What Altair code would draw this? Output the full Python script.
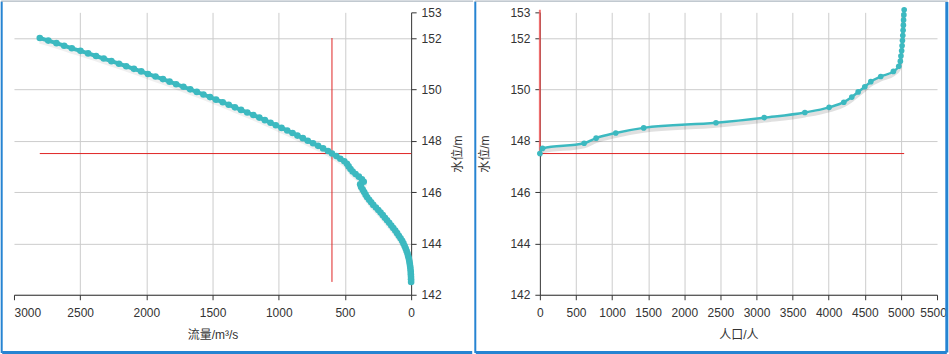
import altair as alt
import pandas as pd

# ---------------- data ----------------
# Left panel: water level (m) vs discharge (m³/s)
left_level = [152.0, 151.9, 151.8, 151.7, 151.6, 151.5, 151.4, 151.3, 151.2, 151.1,
              151.0, 150.9, 150.8, 150.7, 150.6, 150.5, 150.4, 150.3, 150.2, 150.1,
              150.0, 149.9, 149.8, 149.7, 149.6, 149.5, 149.4, 149.3, 149.2, 149.1,
              149.0, 148.9, 148.8, 148.7, 148.6, 148.5, 148.4, 148.3, 148.2, 148.1,
              148.0, 147.9, 147.8, 147.7, 147.6, 147.5, 147.4, 147.3, 147.2, 147.1,
              147.0, 146.9, 146.8, 146.7, 146.6, 146.5, 146.4, 146.3, 146.2, 146.1,
              146.0, 145.9, 145.8, 145.7, 145.6, 145.5, 145.4, 145.3, 145.2, 145.1,
              145.0, 144.9, 144.8, 144.7, 144.6, 144.5, 144.4, 144.3, 144.2, 144.1,
              144.0, 143.9, 143.8, 143.7, 143.6, 143.5, 143.4, 143.3, 143.2, 143.1,
              143.0, 142.9, 142.8, 142.7, 142.6, 142.5]
left_flow = [2805, 2741, 2679, 2621, 2563, 2498, 2440, 2380, 2322, 2264,
             2207, 2152, 2094, 2039, 1988, 1931, 1875, 1825, 1775, 1720,
             1669, 1619, 1569, 1519, 1474, 1423, 1378, 1331, 1285, 1238,
             1192, 1147, 1105, 1062, 1022, 979, 936, 896, 859, 818,
             781, 741, 703, 665, 628, 598, 565, 535, 505, 485,
             472, 458, 442, 420, 395, 372, 358, 385, 378, 366,
             355, 344, 332, 317, 302, 286, 266, 248, 231, 214,
             198, 182, 166, 150, 135, 120, 106, 93, 80, 68,
             58, 49, 41, 34, 27, 22, 17, 13, 10, 7,
             5, 3, 2, 1, 0.5, 0]

# Right panel: water level (m) vs population (people)
right_level = [147.5, 147.7, 147.9, 148.1, 148.3, 148.5, 148.7, 148.9, 149.1, 149.3,
               149.5, 149.7, 149.9, 150.1, 150.3, 150.5, 150.7, 150.9, 151.1, 151.3,
               151.5, 151.7, 151.9, 152.1, 152.3, 152.5, 152.7, 152.9, 153.1]
right_pop = [0, 37, 613, 779, 1051, 1438, 2439, 3107, 3670, 4006,
             4209, 4320, 4408, 4500, 4583, 4721, 4896, 4970, 4992, 5000,
             5010, 5016, 5021, 5026, 5030, 5034, 5037, 5041, 5045]

# current state (crosshair)
cur_level = 147.5
cur_flow = 598

left_x_ticks = [3000, 2500, 2000, 1500, 1000, 500, 0]
right_x_ticks = [0, 500, 1000, 1500, 2000, 2500, 3000, 3500, 4000, 4500, 5000, 5500]
y_ticks = [142, 144, 146, 148, 150, 152, 153]

# ---------------- styles ----------------
TEAL = "#3cb9c0"
RED = "#e02424"
BLUE = "#2684d2"
GRAY_TOP = "#9aa6b2"
FONT = "Liberation Sans, Arial, Noto Sans CJK SC, sans-serif"

OY = 11.75
OXL = 13.3
OXR = 539.7
W = 398
H = 283

AX = dict(domainColor="#333333", tickColor="#333333", labelColor="#333333",
          titleColor="#333333", gridColor="#cccccc", labelFont=FONT, titleFont=FONT,
          labelFontSize=12, titleFontSize=12, titleFontWeight="normal", tickSize=5,
          labelOverlap=False, labelFlush=False, format="d", grid=True)

ydom = alt.Scale(domain=[142, 153], nice=False, zero=False)

left_df = pd.DataFrame({"x": left_flow, "y": left_level})
right_df = pd.DataFrame({"x": right_pop, "y": right_level})

one = alt.Data(values=[{"k": 0}])


def border(ox, color, width, x1, y1, x2=None, y2=None):
    enc = dict(x=alt.value(x1 - ox), y=alt.value(y1 - OY))
    if x2 is not None:
        enc["x2"] = alt.value(x2 - ox)
    if y2 is not None:
        enc["y2"] = alt.value(y2 - OY)
    return alt.Chart(one).mark_rule(color=color, strokeWidth=width).encode(**enc)


# ---------------- left panel ----------------
lx = alt.X("x:Q", scale=alt.Scale(domain=[0, 3000], reverse=True, nice=False),
           axis=alt.Axis(values=left_x_ticks, title="流量/m³/s",
                         gridOpacity=alt.condition("datum.value == 3000 || datum.value == 0",
                                                   alt.value(0), alt.value(1)),
                         labelAlign=alt.condition("datum.value == 3000",
                                                  alt.value("left"), alt.value("center")),
                         labelPadding=8, titlePadding=11, **AX))
ly = alt.Y("y:Q", scale=ydom,
           axis=alt.Axis(orient="right", values=y_ticks, title="水位/m",
                         titleAngle=270, titleBaseline="top",
                         gridOpacity=alt.condition("datum.value == 153",
                                                   alt.value(0), alt.value(1)),
                         labelPadding=5, titlePadding=11, **AX))

left_red = pd.DataFrame({
    "x": [max(left_flow), cur_flow],
    "x2": [0, cur_flow],
    "y": [cur_level, min(left_level)],
    "y2": [cur_level, max(left_level)],
})

left_layers = [
    alt.Chart(left_red).mark_rule(color=RED, strokeWidth=1).encode(
        x=lx, y=ly, x2="x2:Q", y2="y2:Q"),
    alt.Chart(left_df).mark_line(color="#000000", opacity=0.06, strokeWidth=5, yOffset=3).encode(
        x=lx, y=ly, order=alt.Order("y:Q")),
    alt.Chart(left_df).mark_line(color=TEAL, strokeWidth=4).encode(
        x=lx, y=ly, order=alt.Order("y:Q")),
    alt.Chart(left_df).mark_circle(color=TEAL, opacity=1, size=44).encode(x=lx, y=ly),
    border(OXL, BLUE, 2, 1, 1, y2=353),
    border(OXL, BLUE, 3, 1.5, 352.5, x2=472.5),
    border(OXL, GRAY_TOP, 1, 0.5, 0.5, x2=473.5),
]
left = alt.layer(*left_layers).properties(width=W, height=H)

# ---------------- right panel ----------------
rx = alt.X("x:Q", scale=alt.Scale(domain=[0, 5500], nice=False),
           axis=alt.Axis(values=right_x_ticks, title="人口/人",
                         gridOpacity=alt.condition("datum.value == 0 || datum.value == 5500",
                                                   alt.value(0), alt.value(1)),
                         labelOffset=alt.condition("datum.value == 5500",
                                                   alt.value(-4), alt.value(0)),
                         labelPadding=8, titlePadding=11, **AX))
ry = alt.Y("y:Q", scale=ydom,
           axis=alt.Axis(orient="left", values=y_ticks, title="水位/m",
                         gridOpacity=alt.condition("datum.value == 153",
                                                   alt.value(0), alt.value(1)),
                         labelPadding=5, titlePadding=18, **AX))

right_red_h = pd.DataFrame({"x": [0], "x2": [max(right_pop)], "y": [cur_level], "y2": [cur_level]})
right_red_v = pd.DataFrame({"x": [0], "x2": [0], "y": [cur_level], "y2": [max(right_level)]})

right_layers = [
    alt.Chart(right_red_h).mark_rule(color=RED, strokeWidth=1).encode(
        x=rx, y=ry, x2="x2:Q", y2="y2:Q"),
    alt.Chart(right_red_v).mark_rule(color="#f05a5a", strokeWidth=2, opacity=0.85).encode(
        x=rx, y=ry, x2="x2:Q", y2="y2:Q"),
    alt.Chart(right_df).mark_line(color="#000000", opacity=0.12, strokeWidth=4, yOffset=3,
                                  interpolate="monotone").encode(
        x=rx, y=ry, order=alt.Order("y:Q")),
    alt.Chart(right_df).mark_line(color=TEAL, strokeWidth=2.5, interpolate="monotone").encode(
        x=rx, y=ry, order=alt.Order("y:Q")),
    alt.Chart(right_df).mark_circle(color=TEAL, opacity=1, size=32).encode(x=rx, y=ry),
    border(OXR, BLUE, 2, 475, 1, y2=353),
    border(OXR, BLUE, 3, 947.5, 1.5, y2=352.5),
    border(OXR, BLUE, 3, 475.5, 352.5, x2=947.5),
    border(OXR, GRAY_TOP, 1, 474.5, 0.5, x2=948.5),
]
right = alt.layer(*right_layers).properties(width=W, height=H)

chart = alt.hconcat(left, right, spacing=0).properties(
    padding=0, background="white"
).configure_view(strokeWidth=0)

chart.save("out.html", embed_options={"renderer": "svg", "actions": False})
